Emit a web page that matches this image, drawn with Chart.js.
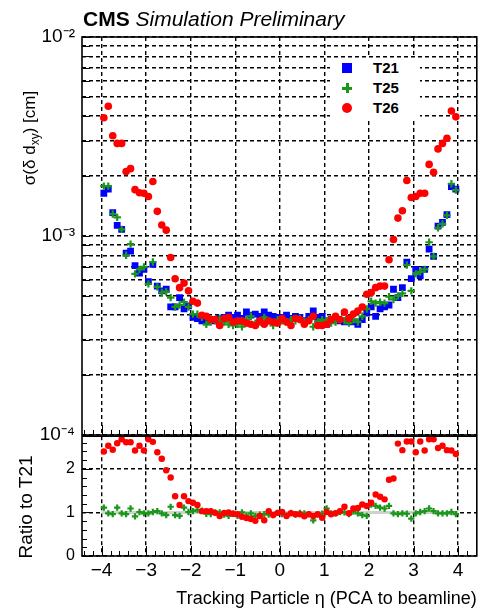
<!DOCTYPE html>
<html>
<head>
<meta charset="utf-8">
<script src="https://cdn.jsdelivr.net/npm/chart.js@4.4.0/dist/chart.umd.min.js"></script>
<style>
  body { margin: 0; background: #fff; width: 483px; height: 612px; position: relative; overflow: hidden;
         font-family: "Liberation Sans", Arial, sans-serif; color: #000; }
  canvas { position: absolute; left: 0; }
  #top { top: 0; }
  #bot { top: 430px; }
  #title { position: absolute; left: 83px; top: 9px; font-size: 21px; line-height: 20px; white-space: nowrap; }
  .ytitle { position: absolute; width: 200px; text-align: center; white-space: nowrap; transform: rotate(-90deg); }
  #ytop { left: -70px; top: 127px; height: 22px; line-height: 22px; font-size: 17px; }
  #ytop sub { font-size: 12px; vertical-align: -4px; line-height: 0; }
  #ybot { left: -74px; top: 495px; height: 24px; line-height: 24px; font-size: 19px; }
  #legend { position: absolute; left: 330px; top: 58px; width: 90px; height: 62px; background: #fff; }
  .row { position: absolute; left: 0; height: 20px; width: 90px; }
  .row span.txt { position: absolute; left: 43px; top: 1px; font-weight: bold; font-size: 15px; line-height: 18px; }
  .mk { position: absolute; left: 12px; top: 5px; width: 10px; height: 10px; }
</style>
</head>
<body>
<canvas id="top" width="483" height="460"></canvas>
<canvas id="bot" width="483" height="182"></canvas>
<div id="title"><b>CMS</b> <i>Simulation Preliminary</i></div>
<div id="ytop" class="ytitle">σ(δ d<sub>xy</sub>) [cm]</div>
<div id="ybot" class="ytitle">Ratio to T21</div>
<div id="legend"></div>
<script>
// bin centres in eta
const eta = [-3.95, -3.85, -3.75, -3.65, -3.55, -3.45, -3.35, -3.25, -3.15, -3.05,
             -2.95, -2.85, -2.75, -2.65, -2.55, -2.45, -2.35, -2.25, -2.15, -2.05,
             -1.95, -1.85, -1.75, -1.65, -1.55, -1.45, -1.35, -1.25, -1.15, -1.05,
             -0.95, -0.85, -0.75, -0.65, -0.55, -0.45, -0.35, -0.25, -0.15, -0.05,
              0.05,  0.15,  0.25,  0.35,  0.45,  0.55,  0.65,  0.75,  0.85,  0.95,
              1.05,  1.15,  1.25,  1.35,  1.45,  1.55,  1.65,  1.75,  1.85,  1.95,
              2.05,  2.15,  2.25,  2.35,  2.45,  2.55,  2.65,  2.75,  2.85,  2.95,
              3.05,  3.15,  3.25,  3.35,  3.45,  3.55,  3.65,  3.75,  3.85,  3.95];

// sigma(delta dxy) in cm
const t21 = [1.64e-3, 1.72e-3, 1.31e-3, 1.13e-3, 1.08e-3, 8.2e-4, 8.4e-4, 7.1e-4, 6.5e-4, 6.8e-4,
             5.9e-4, 7.2e-4, 5.6e-4, 5.3e-4, 5.4e-4, 4.4e-4, 4.4e-4, 4.9e-4, 4.3e-4, 4.45e-4,
             3.9e-4, 3.85e-4, 3.75e-4, 3.7e-4, 3.8e-4, 3.75e-4, 3.85e-4, 3.9e-4, 4.0e-4, 3.9e-4,
             4.0e-4, 3.85e-4, 4.15e-4, 4.0e-4, 4.05e-4, 3.95e-4, 4.15e-4, 4.0e-4, 3.95e-4, 3.9e-4,
             3.9e-4, 4.0e-4, 3.85e-4, 3.95e-4, 3.9e-4, 3.75e-4, 3.95e-4, 4.2e-4, 3.9e-4, 3.95e-4,
             3.6e-4, 3.8e-4, 3.85e-4, 3.75e-4, 3.7e-4, 3.85e-4, 3.7e-4, 3.6e-4, 3.8e-4, 4.1e-4,
             4.4e-4, 3.95e-4, 4.3e-4, 4.4e-4, 4.5e-4, 5.4e-4, 4.9e-4, 5.5e-4, 7.4e-4, 6.1e-4,
             6.8e-4, 6.3e-4, 6.8e-4, 8.6e-4, 7.9e-4, 1.12e-3, 1.17e-3, 1.28e-3, 1.77e-3, 1.72e-3];
const t25 = [1.78e-3, 1.78e-3, 1.29e-3, 1.24e-3, 1.08e-3, 8.0e-4, 9.1e-4, 6.45e-4, 6.8e-4, 7.0e-4,
             5.75e-4, 7.4e-4, 5.55e-4, 5.2e-4, 5.25e-4, 4.9e-4, 4.4e-4, 4.5e-4, 4.65e-4, 4.4e-4,
             4.05e-4, 4.05e-4, 3.9e-4, 3.6e-4, 3.7e-4, 3.75e-4, 3.85e-4, 3.7e-4, 3.6e-4, 3.55e-4,
             3.6e-4, 3.5e-4, 3.8e-4, 3.95e-4, 3.65e-4, 3.7e-4, 3.9e-4, 3.75e-4, 3.55e-4, 3.8e-4,
             3.75e-4, 3.7e-4, 3.8e-4, 3.75e-4, 3.85e-4, 3.7e-4, 3.8e-4, 3.5e-4, 3.7e-4, 3.8e-4,
             3.75e-4, 3.65e-4, 3.7e-4, 3.8e-4, 3.75e-4, 3.65e-4, 3.8e-4, 3.7e-4, 3.95e-4, 4.3e-4,
             4.7e-4, 4.6e-4, 4.65e-4, 4.6e-4, 4.95e-4, 4.8e-4, 5.0e-4, 5.15e-4, 7.15e-4, 5.3e-4,
             6.45e-4, 6.6e-4, 6.8e-4, 9.3e-4, 7.9e-4, 1.1e-3, 1.15e-3, 1.27e-3, 1.83e-3, 1.7e-3];
const t26 = [3.93e-3, 4.49e-3, 3.19e-3, 2.92e-3, 2.92e-3, 2.11e-3, 2.18e-3, 1.71e-3, 1.65e-3, 1.64e-3,
             1.58e-3, 1.88e-3, 1.33e-3, 1.135e-3, 1.07e-3, 7.8e-4, 6.1e-4, 5.5e-4, 5.8e-4, 5.3e-4,
             4.7e-4, 4.6e-4, 4.0e-4, 3.95e-4, 3.8e-4, 3.8e-4, 3.55e-4, 3.85e-4, 3.9e-4, 3.7e-4,
             3.75e-4, 3.75e-4, 3.65e-4, 3.6e-4, 3.55e-4, 3.75e-4, 3.6e-4, 3.75e-4, 3.7e-4, 3.65e-4,
             3.85e-4, 3.7e-4, 3.55e-4, 3.85e-4, 3.8e-4, 3.6e-4, 3.75e-4, 3.95e-4, 3.55e-4, 3.55e-4,
             3.6e-4, 3.8e-4, 3.95e-4, 3.8e-4, 4.15e-4, 3.85e-4, 4.05e-4, 4.2e-4, 4.4e-4, 5.1e-4,
             5.2e-4, 5.5e-4, 5.6e-4, 5.6e-4, 7.6e-4, 9.6e-4, 1.23e-3, 1.34e-3, 1.9e-3, 1.56e-3,
             1.58e-3, 1.64e-3, 1.64e-3, 2.29e-3, 2.09e-3, 2.74e-3, 2.92e-3, 3.1e-3, 4.25e-3, 3.97e-3];

// ratios to T21
const ratioT25 = [1.11, 0.98, 0.96, 1.11, 0.98, 0.96, 1.09, 0.91, 1.01, 0.98,
                  0.98, 1.01, 1.03, 0.98, 0.94, 1.13, 0.94, 0.92, 1.11, 1.01,
                  1.03, 1.06, 1.04, 0.97, 0.96, 1.00, 1.00, 0.95, 0.92, 0.97,
                  0.92, 1.00, 0.93, 0.98, 0.92, 0.95, 0.96, 0.95, 0.94, 0.99,
                  0.96, 0.93, 0.99, 0.95, 0.99, 0.98, 0.96, 0.82, 0.95, 0.97,
                  1.09, 0.98, 0.98, 1.01, 1.00, 0.96, 1.02, 0.98, 0.94, 0.92,
                  1.18, 1.15, 1.11, 1.09, 1.15, 0.98, 0.96, 0.98, 0.97, 0.86,
                  0.98, 1.01, 1.03, 1.09, 1.03, 0.98, 0.98, 0.98, 1.01, 0.96];
const ratioT26 = [2.40, 2.53, 2.44, 2.59, 2.68, 2.61, 2.61, 2.42, 2.53, 2.42,
                  2.68, 2.62, 2.38, 2.23, 1.97, 1.80, 1.37, 1.17, 1.37, 1.26,
                  1.22, 1.17, 1.03, 1.03, 1.03, 0.99, 0.92, 0.99, 1.00, 0.97,
                  0.96, 0.90, 0.87, 0.85, 0.81, 0.92, 0.82, 1.03, 0.94, 0.99,
                  1.01, 0.92, 0.98, 0.96, 0.96, 0.91, 0.96, 0.92, 0.96, 0.88,
                  1.01, 0.96, 0.98, 1.03, 1.13, 0.98, 1.09, 1.10, 1.18, 1.15,
                  1.22, 1.41, 1.36, 1.30, 1.75, 1.78, 2.58, 2.43, 2.63, 2.63,
                  2.38, 2.63, 2.42, 2.68, 2.68, 2.48, 2.53, 2.43, 2.42, 2.34];

// unity line in the ratio panel
const refEta = [-4, 4];
const refRatio = [1, 1];

const seriesNames = ['T21', 'T25', 'T26'];
const seriesColors = ['#0000ff', '#1a961a', '#ff0000'];

const xTickVals = [-4, -3, -2, -1, 0, 1, 2, 3, 4];
const ratioTickVals = [0, 1, 2];
const logDecades = [-4, -3, -2];

// axis ranges
const xMin = -4.44, xMax = 4.42;
const ratioMax = 2.75;

Chart.defaults.font.family = '"Liberation Sans", Arial, sans-serif';
Chart.defaults.color = '#000';

// grid values of the log axis: 1..9 x 10^n
const yGrid = [];
logDecades.forEach((e, i) => {
    const base = Math.pow(10, e);
    if (i === logDecades.length - 1) { yGrid.push(base); return; }
    for (let m = 1; m <= 9; m++) yGrid.push(+(m * base).toPrecision(3));
});

// small inward tick marks like ROOT
const etaMinor = [];
for (let k = -22; k <= 22; k++) etaMinor.push({ v: k / 5, len: k % 5 === 0 ? 10 : 5 });
const ratioMinor = [];
for (let k = 0; k <= 13; k++) ratioMinor.push({ v: k / 5, len: k % 5 === 0 ? 10 : 5 });

const sup = { '-': '\u207B', '0': '\u2070', '1': '\u00B9', '2': '\u00B2', '3': '\u00B3', '4': '\u2074' };
function decadeLabel(v) {
    const e = Math.log10(v);
    if (Math.abs(e - Math.round(e)) > 1e-6) return '';
    return '10' + String(Math.round(e)).split('').map(c => sup[c]).join('');
}
function etaLabel(v) {
    return v < 0 ? '\u2212' + Math.abs(v) : String(v);
}

const pts = (xs, ys) => xs.map((x, i) => ({ x: x, y: ys[i] }));

// fixed axis boxes so both panels line up
function fixBox(w, h) {
    return s => {
        if (w !== null) s.width = w;
        if (h !== null) s.height = h;
        s.paddingTop = 0; s.paddingBottom = 0; s.paddingLeft = 0; s.paddingRight = 0;
    };
}

const framePlugin = {
    id: 'frame',
    afterDraw(chart, args, opts) {
        const { ctx, chartArea: a, scales } = chart;
        ctx.save();
        ctx.setLineDash([]);
        ctx.strokeStyle = '#000';
        ctx.lineWidth = 1;
        ctx.beginPath();
        (opts.xTicks || []).forEach(t => {
            const px = Math.round(scales.x.getPixelForValue(t.v)) + 0.5;
            if (px < a.left || px > a.right) return;
            ctx.moveTo(px, a.bottom);
            ctx.lineTo(px, a.bottom - t.len);
        });
        (opts.yTicks || []).forEach(t => {
            const py = Math.round(scales.y.getPixelForValue(t.v)) + 0.5;
            ctx.moveTo(a.left, py);
            ctx.lineTo(a.left + t.len, py);
        });
        ctx.stroke();
        ctx.lineWidth = 1.6;
        ctx.strokeRect(a.left, a.top, a.right - a.left, a.bottom - a.top);
        ctx.restore();
    }
};

const gridStyle = { color: '#000', lineWidth: 1.4, drawTicks: false };
const borderStyle = { display: false, dash: [4, 3] };

function markerSet(i, size) {
    const c = seriesColors[i];
    if (i === 0) return { pointStyle: 'rect', pointRadius: 4.8 * size, pointBackgroundColor: c, pointBorderColor: c, pointBorderWidth: 0 };
    if (i === 1) return { pointStyle: 'cross', pointRadius: 3.7 * size, pointBackgroundColor: c, pointBorderColor: c, pointBorderWidth: 2.2 };
    return { pointStyle: 'circle', pointRadius: 3.8 * size, pointBackgroundColor: c, pointBorderColor: c, pointBorderWidth: 0 };
}

// upper panel
new Chart(document.getElementById('top'), {
    type: 'scatter',
    data: {
        datasets: [
            Object.assign({ label: seriesNames[0], data: pts(eta, t21), order: 3 }, markerSet(0, 1)),
            Object.assign({ label: seriesNames[1], data: pts(eta, t25), order: 2 }, markerSet(1, 1)),
            Object.assign({ label: seriesNames[2], data: pts(eta, t26), order: 1 }, markerSet(2, 1))
        ]
    },
    options: {
        responsive: false,
        animation: false,
        events: [],
        layout: { padding: { top: 37, right: 2, bottom: 25, left: 0 } },
        plugins: {
            legend: { display: false },
            tooltip: { enabled: false },
            frame: { xTicks: etaMinor, yTicks: yGrid.map(v => ({ v: v, len: 8 })) }
        },
        scales: {
            x: {
                type: 'linear', min: xMin, max: xMax,
                afterBuildTicks: s => { s.ticks = xTickVals.map(v => ({ value: v })); },
                afterFit: fixBox(null, 0),
                ticks: { display: false },
                grid: gridStyle, border: borderStyle
            },
            y: {
                type: 'logarithmic', min: yGrid[0], max: yGrid[yGrid.length - 1],
                afterBuildTicks: s => { s.ticks = yGrid.map(v => ({ value: v })); },
                afterFit: fixBox(82, null),
                ticks: { autoSkip: false, padding: 7, font: { size: 19 }, callback: v => decadeLabel(v) },
                grid: gridStyle, border: borderStyle
            }
        }
    },
    plugins: [framePlugin]
});

// ratio panel
new Chart(document.getElementById('bot'), {
    type: 'scatter',
    data: {
        datasets: [
            { label: 'unity', data: pts(refEta, refRatio), showLine: true, borderColor: '#d0d0d0', borderWidth: 3, pointRadius: 0, order: 4 },
            Object.assign({ label: seriesNames[1] + '/' + seriesNames[0], data: pts(eta, ratioT25), order: 2 }, markerSet(1, 0.85)),
            Object.assign({ label: seriesNames[2] + '/' + seriesNames[0], data: pts(eta, ratioT26), order: 1 }, markerSet(2, 0.85))
        ]
    },
    options: {
        responsive: false,
        animation: false,
        events: [],
        layout: { padding: { top: 5, right: 2, bottom: 0, left: 0 } },
        plugins: {
            legend: { display: false },
            tooltip: { enabled: false },
            frame: { xTicks: etaMinor, yTicks: ratioMinor }
        },
        scales: {
            x: {
                type: 'linear', min: xMin, max: xMax,
                afterBuildTicks: s => { s.ticks = xTickVals.map(v => ({ value: v })); },
                afterFit: fixBox(null, 56),
                ticks: { autoSkip: false, maxRotation: 0, padding: 3, font: { size: 19 }, callback: v => etaLabel(v) },
                title: { display: true, text: 'Tracking Particle \u03B7 (PCA to beamline)', align: 'end',
                         font: { size: 18 }, padding: { top: 0, bottom: 2 } },
                grid: gridStyle, border: borderStyle
            },
            y: {
                type: 'linear', min: 0, max: ratioMax,
                afterBuildTicks: s => { s.ticks = ratioTickVals.map(v => ({ value: v })); },
                afterFit: fixBox(82, null),
                ticks: { autoSkip: false, padding: 7, font: { size: 16 } },
                grid: gridStyle, border: borderStyle
            }
        }
    },
    plugins: [framePlugin]
});

// legend box
const legend = document.getElementById('legend');
seriesNames.forEach((name, i) => {
    const row = document.createElement('div');
    row.className = 'row';
    row.style.top = (i * 20) + 'px';
    const mk = document.createElement('div');
    mk.className = 'mk';
    const c = seriesColors[i];
    if (i === 0) {
        mk.style.background = c;
    } else if (i === 1) {
        mk.innerHTML = '<div style="position:absolute;left:4px;top:0;width:3px;height:10px;background:' + c +
                       '"></div><div style="position:absolute;left:0;top:4px;width:10px;height:3px;background:' + c + '"></div>';
    } else {
        mk.style.background = c;
        mk.style.borderRadius = '50%';
    }
    const txt = document.createElement('span');
    txt.className = 'txt';
    txt.textContent = name;
    row.appendChild(mk);
    row.appendChild(txt);
    legend.appendChild(row);
});
</script>
</body>
</html>
